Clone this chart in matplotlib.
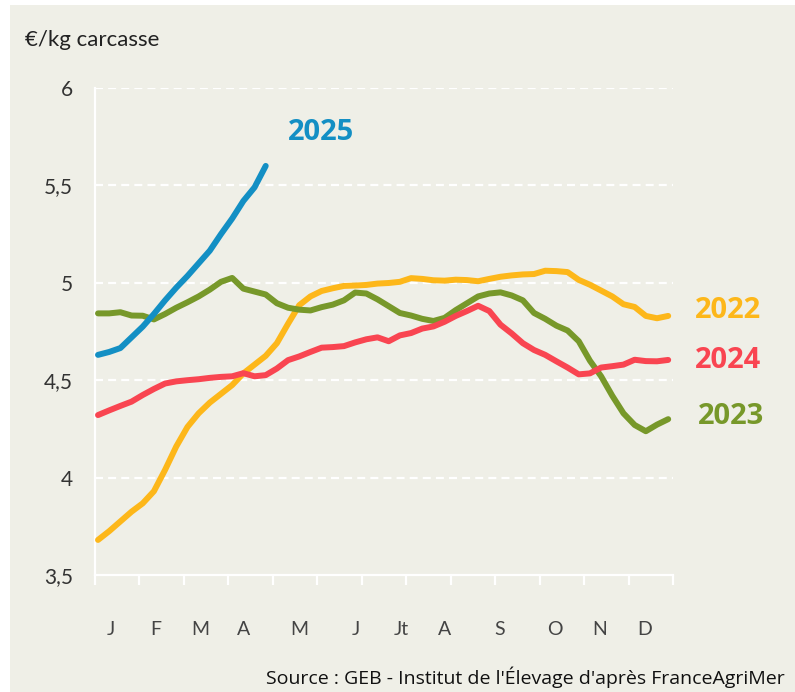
import matplotlib.pyplot as plt
import numpy as np
from matplotlib.patches import Rectangle

# semaines 1..52 (abscisse)
weeks = list(range(1, 53))

prix_2022 = [3.68, 3.725, 3.775, 3.825, 3.868, 3.93, 4.04, 4.16, 4.26, 4.33,
             4.385, 4.43, 4.475, 4.535, 4.58, 4.625, 4.69, 4.79, 4.885, 4.93,
             4.958, 4.972, 4.984, 4.986, 4.989, 4.996, 4.999, 5.005, 5.024, 5.02,
             5.013, 5.011, 5.016, 5.014, 5.008, 5.02, 5.031, 5.038, 5.043, 5.045,
             5.062, 5.06, 5.055, 5.015, 4.99, 4.96, 4.93, 4.89, 4.876, 4.83,
             4.818, 4.83]
prix_2023 = [4.843, 4.843, 4.849, 4.832, 4.831, 4.812, 4.84, 4.872, 4.90, 4.93,
             4.965, 5.005, 5.025, 4.97, 4.955, 4.94, 4.895, 4.872, 4.862, 4.858,
             4.875, 4.888, 4.91, 4.95, 4.945, 4.915, 4.88, 4.845, 4.832, 4.815,
             4.804, 4.82, 4.86, 4.895, 4.93, 4.945, 4.951, 4.935, 4.91, 4.845,
             4.815, 4.78, 4.755, 4.70, 4.60, 4.52, 4.42, 4.33, 4.27, 4.238,
             4.272, 4.30]
prix_2024 = [4.321, 4.345, 4.368, 4.39, 4.424, 4.455, 4.483, 4.494, 4.50, 4.505,
             4.512, 4.517, 4.52, 4.536, 4.52, 4.526, 4.56, 4.603, 4.622, 4.645,
             4.667, 4.67, 4.675, 4.694, 4.71, 4.72, 4.70, 4.73, 4.742, 4.765,
             4.776, 4.80, 4.83, 4.855, 4.882, 4.855, 4.785, 4.74, 4.69, 4.655,
             4.63, 4.597, 4.565, 4.53, 4.535, 4.565, 4.572, 4.58, 4.605, 4.598,
             4.597, 4.604]

weeks_2025 = list(range(1, 17))
prix_2025 = [4.63, 4.645, 4.665, 4.72, 4.775, 4.84, 4.91, 4.975, 5.035, 5.10,
             5.165, 5.25, 5.33, 5.42, 5.49, 5.60]

mois = ['J', 'F', 'M', 'A', 'M', 'J', 'Jt', 'A', 'S', 'O', 'N', 'D']
mois_pos = [2.16, 6.2, 10.1, 14.0, 19.0, 24.1, 28.1, 32.0, 36.9, 41.9, 45.9, 49.9]

y_ticks = [3.5, 4, 4.5, 5, 5.5, 6]
y_labels = ['3,5', '4', '4,5', '5', '5,5', '6']

c2022 = '#fdb71a'
c2023 = '#77982a'
c2024 = '#f94551'
c2025 = '#138fc4'
bg = '#efefe7'

fig = plt.figure(figsize=(7.95, 6.92), dpi=100, facecolor='white')
fig.patches.append(Rectangle((10 / 795, 0), 1, 1 - 5 / 692, transform=fig.transFigure,
                             facecolor=bg, edgecolor='none', zorder=-10))
ax = fig.add_axes([95 / 795, 1 - 575 / 692, 578 / 795, 487 / 692])
ax.set_facecolor(bg)

x0, x1 = 0.73, 52.43
ax.set_xlim(x0, x1)
ax.set_ylim(3.5, 6)

# grille pointillée blanche
for v in y_ticks[1:]:
    ax.axhline(v, color='white', lw=1.6, dashes=(3.6, 2.3), zorder=1)

for s in ['top', 'right']:
    ax.spines[s].set_visible(False)
for s in ['left', 'bottom']:
    ax.spines[s].set_color('white')
    ax.spines[s].set_linewidth(1.6)

ax.set_xticks(np.linspace(x0, x1, 14))
ax.set_xticklabels([])
ax.tick_params(axis='x', which='major', length=7, width=1.6, color='white')
ax.set_xticks(mois_pos, minor=True)
ax.set_xticklabels(mois, minor=True, fontsize=14, color='#444444', family='Lato')
ax.tick_params(axis='x', which='minor', length=0, pad=33)

ax.set_yticks(y_ticks)
ax.set_yticklabels(y_labels, fontsize=15, color='#333333', family='Lato')
ax.tick_params(axis='y', length=0, pad=16)

kw = dict(lw=4.3, solid_capstyle='round', solid_joinstyle='round', zorder=3)
ax.plot(weeks, prix_2022, color=c2022, **kw)
ax.plot(weeks, prix_2023, color=c2023, **kw)
ax.plot(weeks, prix_2024, color=c2024, **kw)
ax.plot(weeks_2025, prix_2025, color=c2025, **kw)

lab = dict(fontsize=21, fontweight='bold', family='Open Sans', va='center',
           transform=fig.transFigure)
fig.text(288 / 795, 1 - 133 / 692, '2025', color=c2025, ha='left', **lab)
fig.text(695 / 795, 1 - 311 / 692, '2022', color=c2022, ha='left', **lab)
fig.text(695 / 795, 1 - 361 / 692, '2024', color=c2024, ha='left', **lab)
fig.text(698 / 795, 1 - 416 / 692, '2023', color=c2023, ha='left', **lab)

fig.text(25 / 795, 1 - 40 / 692, '€/kg carcasse', fontsize=16, color='#222222',
         family='Lato', ha='left', va='center')
fig.text(785 / 795, 1 - 677 / 692,
         "Source : GEB - Institut de l'Élevage d'après FranceAgriMer",
         fontsize=14, color='#111111', family='Open Sans', ha='right', va='center')

fig.savefig('out.png', dpi=100, facecolor=fig.get_facecolor())
